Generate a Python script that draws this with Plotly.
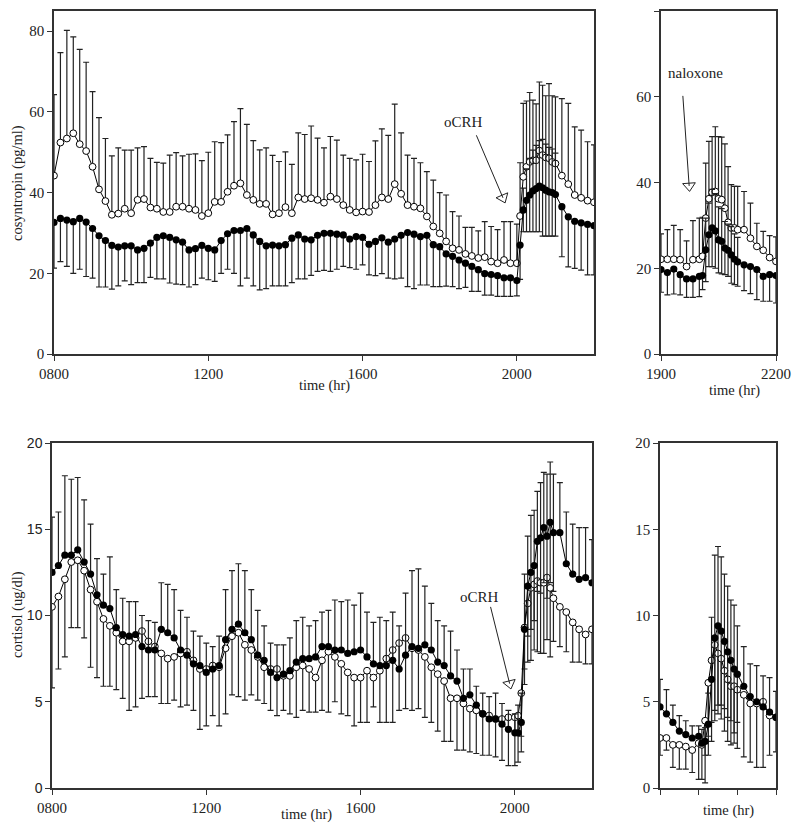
import plotly.graph_objects as go

# ---------------- sampling times (minutes after midnight) ----------------
main_minutes = list(range(480, 1201, 10)) + list(range(1205, 1261, 5)) + list(range(1270, 1321, 10))
side_minutes = list(range(1140, 1201, 10)) + list(range(1205, 1261, 5)) + list(range(1270, 1321, 10))

# ---------------- cosyntropin, main day (pg/ml) ----------------
acth_open = [44.2, 52.4, 53.4, 54.7, 52.0, 50.3, 46.4, 40.8, 37.9, 34.5,
             34.8, 36.0, 34.9, 38.2, 38.4, 36.3, 36.0, 35.2, 35.2, 36.5,
             36.5, 36.0, 35.7, 34.2, 34.9, 37.7, 37.7, 40.2, 41.7, 42.3,
             39.4, 38.2, 37.2, 37.2, 34.6, 34.9, 36.4, 34.9, 38.8, 38.4,
             38.6, 38.2, 37.5, 39.0, 38.4, 36.9, 35.7, 35.1, 35.3, 35.2,
             36.9, 38.8, 38.4, 42.1, 39.7, 36.9, 36.5, 36.1, 34.1, 31.6,
             29.9, 27.9, 26.2, 25.8, 24.8, 24.3, 23.8, 24.0, 22.9, 22.5,
             23.3, 22.5, 22.5,
             34.2, 43.9, 46.4, 47.6, 48.0, 48.0, 50.4, 49.3, 48.7, 48.5, 47.6, 47.2,
             44.2, 42.1, 39.4, 38.7, 38.0, 37.6]
acth_open_upper = [64.3, 74.7, 80.2, 78.6, 75.5, 72.3, 65.0, 58.6, 53.4, 49.1,
                   51.1, 50.5, 50.5, 51.1, 51.4, 48.5, 47.5, 47.3, 49.3, 49.9,
                   49.1, 49.5, 49.6, 47.9, 50.0, 52.6, 52.4, 54.3, 57.6, 60.8,
                   56.9, 52.9, 50.6, 51.1, 49.2, 47.7, 50.1, 47.0, 54.8, 54.4,
                   56.5, 53.5, 51.1, 53.9, 53.0, 49.3, 48.5, 48.1, 49.5, 47.7,
                   52.8, 55.8, 54.2, 61.9, 54.8, 49.3, 48.5, 47.4, 45.2, 43.1,
                   40.0, 39.4, 35.3, 34.2, 31.4, 31.4, 30.5, 32.8, 31.6, 30.8,
                   32.8, 32.8, 32.2,
                   47.4, 62.1, 62.7, 64.8, 62.9, 62.0, 67.4, 66.6, 64.0, 67.0, 64.0, 63.7,
                   63.3, 62.1, 56.3, 55.5, 52.6, 51.8]
acth_fill = [32.6, 33.6, 33.2, 32.8, 33.6, 32.7, 31.1, 29.3, 28.1, 26.9,
             26.5, 26.8, 26.8, 25.8, 26.2, 27.5, 28.9, 29.3, 28.9, 28.3,
             27.7, 25.8, 26.1, 26.9, 26.2, 25.8, 28.1, 29.8, 30.6, 30.6,
             31.1, 29.5, 27.9, 26.8, 27.0, 26.8, 27.1, 28.7, 29.5, 28.5,
             28.3, 29.4, 29.9, 29.9, 29.7, 29.5, 28.5, 29.1, 28.9, 27.2,
             27.9, 28.8, 27.7, 28.5, 29.4, 30.1, 29.7, 29.1, 29.4, 27.1,
             26.6, 24.8, 24.2, 23.3, 22.5, 21.7, 20.9, 19.9, 19.7, 19.4,
             18.9, 18.9, 18.2,
             27.0, 35.7, 38.1, 39.4, 40.4, 41.0, 41.6, 41.2, 40.6, 40.2, 40.0, 39.5,
             36.5, 34.0, 32.9, 32.5, 32.1, 31.8]
acth_fill_lower = [21.3, 22.9, 21.7, 20.0, 21.0, 19.2, 18.8, 16.6, 16.6, 16.1,
                   16.9, 18.1, 17.2, 17.7, 17.7, 19.0, 18.6, 18.6, 17.6, 17.3,
                   17.2, 16.6, 17.2, 18.8, 18.4, 18.0, 20.0, 21.0, 20.0, 16.9,
                   18.8, 16.9, 15.9, 16.2, 16.9, 16.9, 16.9, 17.7, 18.6, 18.6,
                   19.5, 20.5, 20.7, 20.5, 21.0, 21.7, 21.4, 21.0, 22.1, 19.6,
                   19.4, 19.9, 18.8, 18.6, 18.8, 16.7, 16.2, 17.1, 17.1, 16.7,
                   16.7, 16.8, 16.7, 16.2, 16.5, 15.5, 15.5, 14.6, 14.6, 14.3,
                   14.3, 14.3, 14.4,
                   18.5, 30.3, 30.3, 30.3, 30.3, 30.3, 30.3, 29.2, 29.2, 29.2, 29.2, 29.2,
                   24.1, 21.6, 21.2, 20.8, 19.6, 19.6]

# ---------------- cosyntropin, naloxone evening ----------------
nal_acth_open = [22.1, 22.1, 22.1, 22.0, 20.4, 22.0, 22.1, 22.8, 31.7, 36.2, 37.7, 37.9, 36.2,
                 36.0, 34.0, 30.7, 29.4, 29.4, 29.0, 29.0, 27.0, 25.1, 24.2, 22.5, 21.6]
nal_acth_open_upper = [28.0, 29.0, 30.0, 29.0, 26.4, 31.1, 31.7, 31.9, 44.5, 49.6, 50.7, 53.0, 50.7,
                       50.6, 49.0, 43.7, 39.5, 39.1, 39.1, 37.9, 35.2, 30.5, 28.6, 27.6, 27.3]
nal_acth_fill = [19.7, 19.0, 19.8, 18.5, 17.5, 17.5, 18.1, 18.3, 24.3, 27.8, 29.4, 28.7, 26.6,
                 26.3, 24.7, 24.2, 23.1, 22.1, 21.5, 20.8, 20.4, 19.7, 18.1, 18.5, 18.3]
nal_acth_fill_lower = [14.4, 13.8, 14.0, 13.8, 13.2, 13.2, 13.4, 15.0, 16.9, 20.4, 20.4, 20.0, 18.9,
                       18.7, 18.5, 18.1, 16.5, 16.2, 15.8, 14.8, 14.1, 12.7, 12.3, 12.3, 11.9]

# ---------------- cortisol, main day (ug/dl) ----------------
cort_fill = [12.5, 12.9, 13.5, 13.5, 13.8, 13.1, 12.4, 11.2, 10.6, 10.4,
             9.3, 8.9, 8.8, 8.9, 8.2, 8.0, 8.0, 9.2, 9.0, 8.7,
             8.0, 7.7, 7.2, 7.1, 6.7, 6.9, 7.1, 8.6, 9.2, 9.5,
             9.0, 8.6, 7.7, 7.4, 6.7, 6.4, 6.6, 6.8, 7.3, 7.5,
             7.5, 7.6, 8.2, 8.2, 8.0, 8.0, 7.8, 7.9, 8.0, 7.6,
             7.2, 7.1, 7.1, 7.4, 6.9, 7.7, 8.2, 8.1, 8.3, 8.0,
             7.3, 7.1, 6.5, 6.2, 5.2, 5.4, 4.8, 4.3, 4.0, 4.0,
             3.7, 3.4, 3.2,
             3.2, 3.8, 9.2, 11.7, 12.5, 12.9, 14.3, 14.5, 15.1, 14.6, 15.4, 14.8,
             14.8, 13.0, 12.4, 12.1, 12.2, 11.9]
cort_fill_upper = [15.7, 16.0, 18.1, 17.9, 18.0, 16.7, 15.3, 13.3, 12.4, 13.4,
                   11.5, 11.0, 10.8, 10.8, 10.0, 9.7, 9.6, 11.9, 11.8, 11.5,
                   10.3, 9.9, 9.1, 8.8, 8.4, 8.2, 8.8, 11.5, 12.6, 13.0,
                   12.6, 11.5, 10.3, 9.4, 8.4, 8.3, 8.3, 8.7, 9.7, 9.9,
                   9.4, 9.7, 10.2, 10.3, 10.9, 10.8, 10.9, 10.6, 11.3, 10.2,
                   9.6, 9.9, 9.7, 10.2, 9.4, 11.3, 12.6, 12.7, 11.7, 10.7,
                   9.7, 9.4, 9.1, 8.0, 6.9, 6.9, 5.9, 5.5, 5.3, 5.5,
                   4.9, 4.5, 4.3,
                   4.8, 5.5, 12.4, 14.6, 15.8, 16.1, 17.2, 17.7, 18.3, 18.2, 18.9, 18.2,
                   17.7, 16.0, 15.3, 15.1, 15.1, 14.4]
cort_open = [10.5, 11.1, 12.1, 13.1, 13.2, 12.6, 11.5, 10.8, 9.8, 9.4,
             9.0, 8.5, 8.5, 8.7, 9.1, 8.5, 8.2, 7.8, 7.5, 7.6,
             7.8, 7.9, 7.4, 6.9, 6.9, 7.1, 7.0, 8.1, 8.8, 9.0,
             8.3, 8.0, 7.6, 7.0, 6.9, 6.9, 6.5, 6.5, 7.0, 7.1,
             6.9, 6.4, 7.4, 7.9, 7.6, 7.2, 6.7, 6.4, 6.4, 6.8,
             6.4, 6.8, 7.5, 8.0, 8.4, 8.7, 8.1, 8.0, 7.6, 7.0,
             6.6, 6.2, 5.2, 5.2, 4.9, 4.6, 4.5, 4.3, 4.2, 4.0,
             4.0, 4.1, 4.1,
             4.2, 5.5, 9.3, 10.7, 11.6, 11.8, 12.0, 11.9, 11.9, 12.2, 11.6, 11.0,
             10.5, 10.2, 9.6, 9.2, 8.9, 9.2]
cort_open_lower = [5.8, 6.9, 7.6, 9.3, 9.3, 8.7, 7.0, 6.4, 5.9, 5.9,
                   5.7, 5.2, 4.5, 4.7, 5.2, 5.3, 5.3, 4.9, 4.9, 5.1,
                   4.7, 4.8, 4.5, 3.4, 3.6, 4.2, 3.6, 4.3, 5.4, 5.3,
                   5.1, 5.4, 5.1, 4.9, 4.5, 4.2, 4.5, 4.3, 4.1, 4.5,
                   4.4, 4.4, 4.5, 4.4, 5.0, 4.3, 4.2, 3.6, 3.8, 3.8,
                   4.7, 3.8, 3.8, 3.8, 4.5, 4.6, 4.5, 4.6, 4.1, 3.8,
                   3.3, 2.7, 2.7, 2.2, 2.2, 2.1, 2.0, 1.9, 1.9, 1.8,
                   1.6, 1.3, 1.3,
                   1.5, 3.0, 6.9, 7.3, 7.4, 8.0, 7.9, 7.8, 7.8, 8.6, 7.6, 8.5,
                   8.2, 7.9, 7.3, 7.3, 7.2, 7.2]

# ---------------- cortisol, naloxone evening ----------------
nal_cort_fill = [4.7, 4.3, 3.8, 3.3, 3.1, 2.9, 3.0, 2.6, 2.7, 3.7, 6.3, 8.7, 9.4,
                 9.1, 8.5, 7.9, 7.4, 6.9, 6.6, 5.9, 5.3, 5.0, 4.7, 4.4, 4.1]
nal_cort_fill_upper = [6.3, 5.7, 4.8, 4.2, 3.9, 3.6, 3.6, 3.4, 3.5, 5.5, 9.9, 13.5, 14.0,
                       13.4, 12.4, 11.7, 10.9, 10.6, 9.4, 8.2, 7.2, 7.1, 6.5, 6.4, 5.6]
nal_cort_open = [2.9, 2.9, 2.5, 2.5, 2.4, 2.2, 2.6, 2.5, 3.9, 6.1, 7.4, 8.3, 7.8,
                 7.5, 6.8, 6.3, 5.9, 5.9, 5.7, 5.4, 4.9, 4.9, 5.0, 4.2, 4.1]
nal_cort_open_lower = [1.9, 2.2, 1.2, 1.1, 1.1, 0.9, 0.5, 0.5, 0.3, 3.0, 3.8, 4.5, 4.3,
                       4.0, 3.3, 2.7, 2.5, 2.6, 2.3, 1.8, 1.5, 1.2, 1.2, 1.9, 2.1]

tick_hours = [8, 12, 16, 20]
tick_text = ["0800", "1200", "1600", "2000"]
side_tick_hours = [19, 22]
side_tick_text = ["1900", "2200"]

SERIF = "Liberation Serif"
INK = "#222222"
DENSE_START, DENSE_END = 1210, 1260   # rapid-sampling window (minutes)

# the page body has an 8px margin: size the figure so that it exactly fills the window
PAGE_W, PAGE_H, BODY = 800, 832, 8
FIG_W, FIG_H = PAGE_W - 2 * BODY, PAGE_H - 2 * BODY


def px(X):
    return (X - BODY) / FIG_W


def py(Y):
    return 1 - (Y - BODY) / FIG_H


def hrs(minutes):
    return [m / 60.0 for m in minutes]


def diff(a, b):
    return [max(0.0, x - y) for x, y in zip(a, b)]


fig = go.Figure()


def add_pair(xa, ya, minutes, open_v, open_err_up, open_err_dn,
             fill_v, fill_err_up, fill_err_dn):
    t = hrs(minutes)
    eb = dict(type="data", symmetric=False, color=INK, thickness=1.2, width=3)
    fig.add_trace(go.Scatter(
        x=t, y=open_v, mode="lines+markers", xaxis=xa, yaxis=ya,
        line=dict(color="black", width=1),
        marker=dict(symbol="circle", size=6.8, color="white",
                    line=dict(color="black", width=1)),
        error_y=dict(eb, array=open_err_up, arrayminus=open_err_dn),
        showlegend=False, hoverinfo="skip"))
    fig.add_trace(go.Scatter(
        x=t, y=fill_v, mode="lines+markers", xaxis=xa, yaxis=ya,
        line=dict(color="black", width=1),
        marker=dict(symbol="circle", size=7.2, color="black"),
        error_y=dict(eb, array=fill_err_up, arrayminus=fill_err_dn),
        showlegend=False, hoverinfo="skip"))


def dense(minutes, err):
    return [e if DENSE_START <= m <= DENSE_END else 0.0 for m, e in zip(minutes, err)]


# top-left : cosyntropin (open bars up, filled bars down)
e_up = diff(acth_open_upper, acth_open)
e_dn = diff(acth_fill, acth_fill_lower)
add_pair("x", "y", main_minutes, acth_open, e_up, [0] * len(e_up),
         acth_fill, dense(main_minutes, e_dn), e_dn)

# top-right : naloxone cosyntropin
e_up = diff(nal_acth_open_upper, nal_acth_open)
e_dn = diff(nal_acth_fill, nal_acth_fill_lower)
add_pair("x2", "y2", side_minutes, nal_acth_open, e_up, [0] * len(e_up),
         nal_acth_fill, dense(side_minutes, e_dn), e_dn)

# bottom-left : cortisol (filled bars up, open bars down)
f_up = diff(cort_fill_upper, cort_fill)
o_dn = diff(cort_open, cort_open_lower)
add_pair("x3", "y3", main_minutes, cort_open, [0] * len(o_dn), o_dn,
         cort_fill, f_up, dense(main_minutes, f_up))

# bottom-right : naloxone cortisol
f_up = diff(nal_cort_fill_upper, nal_cort_fill)
o_dn = diff(nal_cort_open, nal_cort_open_lower)
add_pair("x4", "y4", side_minutes, nal_cort_open, [0] * len(o_dn), o_dn,
         nal_cort_fill, f_up, dense(side_minutes, f_up))

# ---------------- arrows (line + open triangle head) ----------------
arrows = [  # (xaxis, yaxis, tail_t, tail_v, head_t, head_v, angle)
    ("x", "y", 18.95, 54.2, 19.64, 38.7, -23),
    ("x2", "y2", 19.57, 60.2, 19.735, 39.2, -4),
    ("x3", "y3", 19.37, 10.5, 19.865, 6.05, -14),
]
for xa, ya, t0, v0, t1, v1, ang in arrows:
    fig.add_shape(type="line", xref=xa, yref=ya, x0=t0, y0=v0, x1=t1, y1=v1,
                  line=dict(color=INK, width=1))
    fig.add_trace(go.Scatter(
        x=[t1], y=[v1], mode="markers", xaxis=xa, yaxis=ya,
        marker=dict(symbol="triangle-down", size=11, color="white", angle=ang,
                    line=dict(color=INK, width=1)),
        showlegend=False, hoverinfo="skip"))

label_font = dict(family=SERIF, size=15, color=INK)
fig.add_annotation(x=18.62, y=57.5, xref="x", yref="y", text="oCRH",
                   showarrow=False, font=label_font)
fig.add_annotation(x=19.13, y=65.6, xref="x2", yref="y2", text="naloxone",
                   showarrow=False, font=label_font, xanchor="left")
fig.add_annotation(x=19.09, y=11.1, xref="x3", yref="y3", text="oCRH",
                   showarrow=False, font=label_font)

# ---------------- axis titles ----------------
title_font = dict(family=SERIF, size=14.5, color=INK)
for X, Y, txt, ang in [(324, 385, "time (hr)", 0),
                       (734, 390, "time (hr)", 0),
                       (306, 814, "time (hr)", 0),
                       (728, 810, "time (hr)", 0),
                       (17, 183, "cosyntropin (pg/ml)", -90),
                       (17, 615, "cortisol (ug/dl)", -90)]:
    fig.add_annotation(x=px(X), y=py(Y), xref="paper", yref="paper", text=txt,
                       xanchor="center", yanchor="middle",
                       showarrow=False, textangle=ang, font=title_font)

# ---------------- axes ----------------
base = dict(showline=True, linecolor="#333333", linewidth=1.5, mirror=True,
            ticks="outside", ticklen=5, tickcolor="#333333", tickwidth=1.2,
            showgrid=False, zeroline=False, automargin=False,
            tickfont=dict(family=SERIF, size=15, color=INK))

top_dom = [py(354), py(11)]
bot_dom = [py(788), py(443)]

fig.update_layout(
    width=FIG_W, height=FIG_H,
    margin=dict(l=0, r=0, t=0, b=0, pad=0, autoexpand=False),
    paper_bgcolor="white", plot_bgcolor="white", showlegend=False,
    xaxis=dict(base, domain=[px(54), px(594)], range=[8, 22], anchor="y",
               tickvals=tick_hours, ticktext=tick_text),
    yaxis=dict(base, domain=top_dom, range=[0, 85], anchor="x",
               tickvals=[0, 20, 40, 60, 80]),
    xaxis2=dict(base, domain=[px(661), px(776)], range=[19, 22], anchor="y2",
                tickvals=side_tick_hours, ticktext=side_tick_text),
    yaxis2=dict(base, domain=top_dom, range=[0, 80], anchor="x2",
                tickvals=[0, 20, 40, 60, 80]),
    xaxis3=dict(base, domain=[px(52), px(592)], range=[8, 22], anchor="y3",
                tickvals=tick_hours, ticktext=tick_text),
    yaxis3=dict(base, domain=bot_dom, range=[0, 20], anchor="x3",
                tickvals=[0, 5, 10, 15, 20],
                tickfont=dict(family="Liberation Sans", size=14, color=INK)),
    xaxis4=dict(base, domain=[px(660), px(776)], range=[19, 22], anchor="y4",
                tickvals=[19, 20, 21, 22], showticklabels=False),
    yaxis4=dict(base, domain=bot_dom, range=[0, 20], anchor="x4",
                tickvals=[0, 5, 10, 15, 20]),
)

fig.write_html("out.html")
